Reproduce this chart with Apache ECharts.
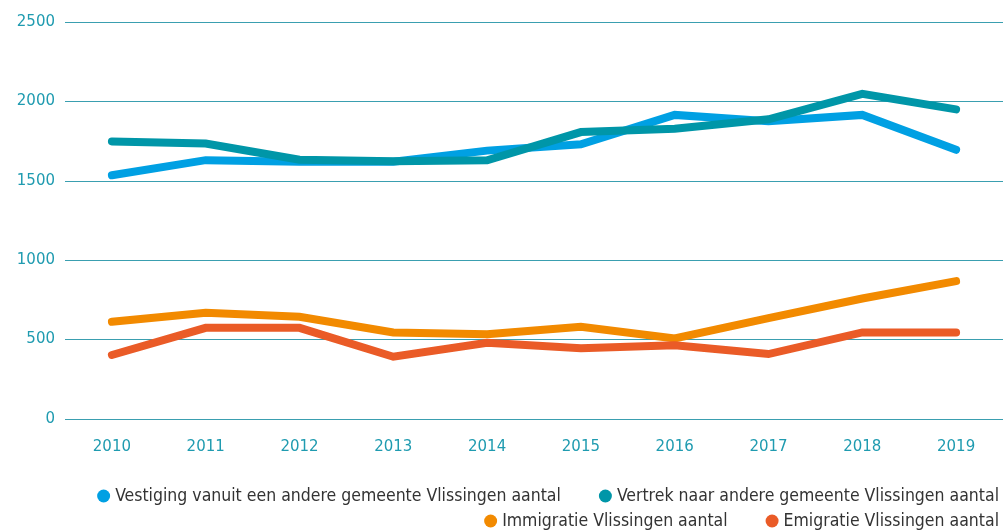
<!DOCTYPE html>
<html>
<head>
<meta charset="utf-8">
<script src="https://cdn.jsdelivr.net/npm/echarts@6/dist/echarts.min.js"></script>
<style>
  html, body { margin: 0; padding: 0; background: #fff; }
  #main { width: 1007px; height: 532px; }
</style>
</head>
<body>
<div id="main"></div>
<script>
// jaren op de x-as
const years = ['2010', '2011', '2012', '2013', '2014', '2015', '2016', '2017', '2018', '2019'];
// aantallen per reeks
const vestiging = [1535, 1630, 1620, 1620, 1690, 1730, 1915, 1875, 1915, 1695];
const vertrek = [1748, 1735, 1633, 1623, 1629, 1807, 1828, 1887, 2048, 1950];
const immigratie = [612, 669, 644, 545, 533, 581, 507, 635, 759, 868];
const emigratie = [403, 574, 574, 392, 480, 445, 465, 409, 545, 545];

const names = [
    'Vestiging vanuit een andere gemeente Vlissingen aantal',
    'Vertrek naar andere gemeente Vlissingen aantal',
    'Immigratie Vlissingen aantal',
    'Emigratie Vlissingen aantal'
];
const colors = ['#00a0e3', '#0096a8', '#f28a00', '#ea5b27'];
const textColor = '#1f9bb0';
const font = 'DejaVu Sans, Verdana, sans-serif';

function lineSeries(name, data, color) {
    return {
        name: name,
        type: 'line',
        data: data,
        symbol: 'none',
        color: color,
        lineStyle: { width: 8, color: color, cap: 'round', join: 'miter' },
        emphasis: { disabled: true }
    };
}

const legendBase = {
    right: 3,
    icon: 'circle',
    itemWidth: 13,
    itemHeight: 13,
    itemGap: 38,
    textStyle: { fontFamily: 'DejaVu Sans Condensed, DejaVu Sans, sans-serif', fontSize: 17.5, color: '#333' }
};

const chart = echarts.init(document.getElementById('main'));
chart.setOption({
    animation: false,
    grid: { left: 65, right: 4, top: 22, bottom: 113 },
    legend: [
        Object.assign({ top: 482, data: [names[0], names[1]] }, legendBase),
        Object.assign({ top: 507, data: [names[2], names[3]] }, legendBase)
    ],
    xAxis: {
        type: 'category',
        data: years,
        boundaryGap: true,
        axisLine: { show: false },
        axisTick: { show: false },
        axisLabel: { color: textColor, fontFamily: font, fontSize: 15, margin: 21 }
    },
    yAxis: {
        type: 'value',
        min: 0,
        max: 2500,
        interval: 500,
        axisLine: { show: false },
        axisTick: { show: false },
        axisLabel: { color: textColor, fontFamily: font, fontSize: 15, margin: 10, formatter: function (v) { return String(v); } },
        splitLine: { lineStyle: { color: '#3a9fb0', width: 1 } }
    },
    series: [
        lineSeries(names[0], vestiging, colors[0]),
        lineSeries(names[1], vertrek, colors[1]),
        lineSeries(names[2], immigratie, colors[2]),
        lineSeries(names[3], emigratie, colors[3])
    ]
});
</script>
</body>
</html>
